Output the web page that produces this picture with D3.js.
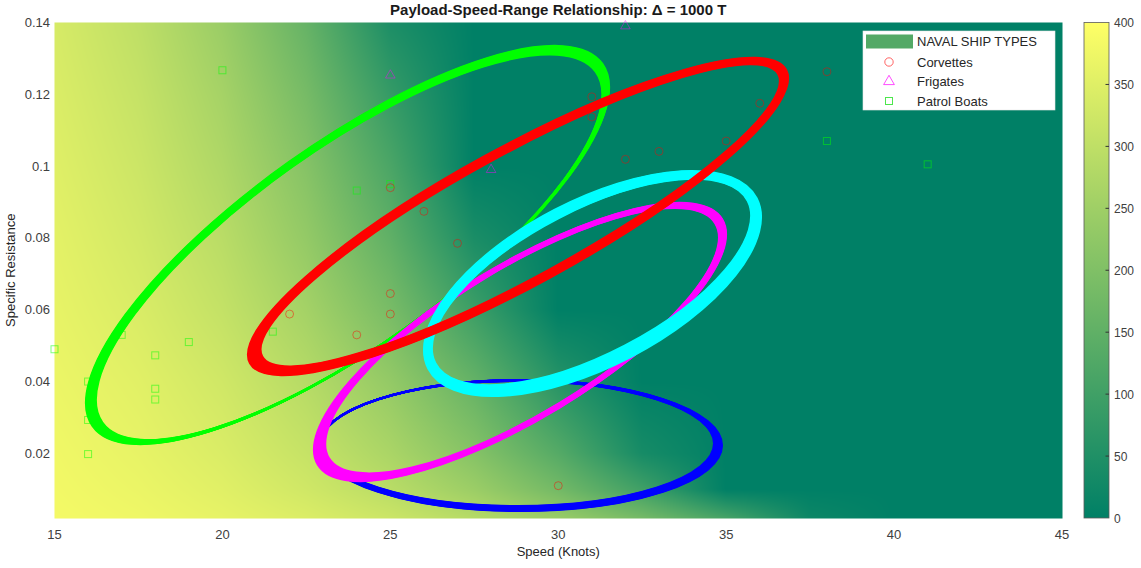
<!DOCTYPE html>
<html>
<head>
<meta charset="utf-8">
<script src="https://cdn.jsdelivr.net/npm/d3@7"></script>
<style>
  body { margin: 0; background: #ffffff; }
  svg { display: block; font-family: "Liberation Sans", Arial, sans-serif; }
</style>
</head>
<body>
<svg id="chart" width="1141" height="568"></svg>
<script>
// ---- Payload surface: estimated payload (T) over speed / specific resistance ----
const speedGrid = [15, 17.5, 20, 22.5, 25, 27.5, 30, 32.5, 35, 37.5, 40, 42.5, 45];
const resistanceGrid = [0.002, 0.01, 0.02, 0.04, 0.06, 0.08, 0.10, 0.12, 0.14];
const payloadGrid = [
  [383, 375, 362, 344, 319, 285, 240, 183, 110, 20, 0, 0, 0],
  [380, 369, 352, 326, 291, 244, 181, 101, 0, 0, 0, 0, 0],
  [377, 363, 342, 311, 268, 210, 134, 36, 0, 0, 0, 0, 0],
  [370, 353, 326, 286, 232, 158, 61, 0, 0, 0, 0, 0, 0],
  [363, 341, 307, 258, 189, 95, 0, 0, 0, 0, 0, 0, 0],
  [357, 330, 291, 232, 151, 42, 0, 0, 0, 0, 0, 0, 0],
  [350, 320, 275, 210, 118, 0, 0, 0, 0, 0, 0, 0, 0],
  [343, 310, 260, 186, 84, 0, 0, 0, 0, 0, 0, 0, 0],
  [336, 299, 242, 160, 45, 0, 0, 0, 0, 0, 0, 0, 0]
];

// ---- Ship samples (speed in knots, specific resistance) ----
const corvetteSpeed = [22, 24, 25, 25, 25, 26, 27, 30, 31, 31, 32, 33, 35, 36, 38];
const corvetteResistance = [0.0588, 0.053, 0.0645, 0.0588, 0.094, 0.0874, 0.0785, 0.011, 0.1137, 0.1193, 0.1019, 0.1041, 0.107, 0.1175, 0.1263];
const frigateSpeed = [25, 28, 32];
const frigateResistance = [0.1253, 0.099, 0.139];
const patrolSpeed = [15, 16, 16, 16, 17, 18, 18, 18, 19, 20, 21.5, 24, 25, 38, 41];
const patrolResistance = [0.049, 0.040, 0.0293, 0.0198, 0.053, 0.0473, 0.038, 0.035, 0.051, 0.1267, 0.0539, 0.0932, 0.095, 0.107, 0.1005];

// ---- Spread ellipses (outer boundary): centre, half-spread and correlation ----
const ellipseColours = ["#00ff00", "#0000ff", "#ff00ff", "#00ffff", "#ff0000"];
const centreSpeed = [23.725, 28.876, 28.861, 31.020, 28.802];
const centreRes = [0.07803, 0.02219, 0.05102, 0.06731, 0.08597];
const spreadSpeed = [7.817, 6.030, 6.164, 5.047, 8.070];
const spreadRes = [0.0557, 0.01852, 0.03899, 0.03161, 0.04442];
const correlation = [0.79, 0.0, 0.771, 0.586, 0.868];

// ---- Axes ----
const xTicks = [15, 20, 25, 30, 35, 40, 45];
const yTicks = [0.02, 0.04, 0.06, 0.08, 0.1, 0.12, 0.14];
const colourTicks = [0, 50, 100, 150, 200, 250, 300, 350, 400];

// Band look (pixels): depth of the band at the ends / along the sides, and drift of the inner ring
const bandStyle = [
  { end: 10,   side: 3.25, dx: 1.6,  dy: 2.25 },
  { end: 5,    side: 3,    dx: -3,   dy: -2 },
  { end: 10.5, side: 4,    dx: 2.1,  dy: -1.3 },
  { end: 9,    side: 11,   dx: -1,   dy: -1.5 },
  { end: 11.5, side: 7.5,  dx: 2.2,  dy: -1.2 }
];

const svg = d3.select("#chart");
const x = d3.scaleLinear().domain([15, 45]).range([54.5, 1062]);
const y = d3.scaleLinear().domain([0.002, 0.14]).range([518, 22.5]);
const summer = d3.scaleLinear().domain([0, 400]).range(["#008066", "#ffff66"]).clamp(true);

// Surface, shaded with bilinear interpolation between grid nodes
function payloadAt(s, r) {
  let i = d3.bisectRight(speedGrid, s) - 1;
  i = Math.max(0, Math.min(speedGrid.length - 2, i));
  let j = d3.bisectRight(resistanceGrid, r) - 1;
  j = Math.max(0, Math.min(resistanceGrid.length - 2, j));
  const u = Math.max(0, Math.min(1, (s - speedGrid[i]) / (speedGrid[i + 1] - speedGrid[i])));
  const v = Math.max(0, Math.min(1, (r - resistanceGrid[j]) / (resistanceGrid[j + 1] - resistanceGrid[j])));
  const p = payloadGrid;
  return (1 - u) * (1 - v) * p[j][i] + u * (1 - v) * p[j][i + 1] +
         (1 - u) * v * p[j + 1][i] + u * v * p[j + 1][i + 1];
}

const x0 = x.range()[0], y0 = y.range()[1];
const plotW = Math.round(x.range()[1] - x0), plotH = Math.round(y.range()[0] - y0);
const canvas = document.createElement("canvas");
canvas.width = plotW; canvas.height = plotH;
const ctx = canvas.getContext("2d");
const img = ctx.createImageData(plotW, plotH);
for (let py = 0; py < plotH; py++) {
  const r = y.invert(y0 + py + 0.5);
  for (let px = 0; px < plotW; px++) {
    const s = x.invert(x0 + px + 0.5);
    const c = d3.rgb(summer(payloadAt(s, r)));
    const k = (py * plotW + px) * 4;
    img.data[k] = c.r; img.data[k + 1] = c.g; img.data[k + 2] = c.b; img.data[k + 3] = 255;
  }
}
ctx.putImageData(img, 0, 0);

const defs = svg.append("defs");
defs.append("clipPath").attr("id", "plot-clip")
  .append("rect").attr("x", x0).attr("y", y0).attr("width", plotW).attr("height", plotH);

svg.append("image")
  .attr("x", x0).attr("y", y0)
  .attr("width", plotW).attr("height", plotH)
  .attr("preserveAspectRatio", "none")
  .attr("href", canvas.toDataURL());

// Ship markers
const markers = svg.append("g");
markers.selectAll("rect.patrol").data(d3.range(patrolSpeed.length)).join("rect")
  .attr("class", "patrol")
  .attr("x", i => x(patrolSpeed[i]) - 3.5).attr("y", i => y(patrolResistance[i]) - 3.5)
  .attr("width", 7).attr("height", 7)
  .attr("fill", "none").attr("stroke", "#00ff00").attr("stroke-opacity", 0.5).attr("stroke-width", 1);
markers.selectAll("circle.corvette").data(d3.range(corvetteSpeed.length)).join("circle")
  .attr("class", "corvette")
  .attr("cx", i => x(corvetteSpeed[i])).attr("cy", i => y(corvetteResistance[i])).attr("r", 4)
  .attr("fill", "none").attr("stroke", "#ff0000").attr("stroke-opacity", 0.45).attr("stroke-width", 1);
const tri = d3.symbol().type(d3.symbolTriangle).size(40);
markers.selectAll("path.frigate").data(d3.range(frigateSpeed.length)).join("path")
  .attr("class", "frigate")
  .attr("transform", i => `translate(${x(frigateSpeed[i])},${y(frigateResistance[i])})`)
  .attr("d", tri())
  .attr("fill", "none").attr("stroke", "#ff00ff").attr("stroke-opacity", 0.45).attr("stroke-width", 1);

// Ellipse bands: nested rings from the outer boundary inwards
const bands = svg.append("g").attr("clip-path", "url(#plot-clip)");
const kx = x(1) - x(0), ky = y(0) - y(1);
const rings = 14, ringWidth = 2;
ellipseColours.forEach((colour, e) => {
  const sxp = spreadSpeed[e] * kx, syp = spreadRes[e] * ky;
  const sxx = sxp * sxp, syy = syp * syp, sxy = -correlation[e] * sxp * syp; // screen y points down
  const half = (sxx + syy) / 2, disc = Math.sqrt(((sxx - syy) / 2) ** 2 + sxy * sxy);
  const a = Math.sqrt(half + disc), b = Math.sqrt(half - disc);
  const phi = 0.5 * Math.atan2(2 * sxy, sxx - syy) * 180 / Math.PI;
  const st = bandStyle[e];
  const cx = x(centreSpeed[e]), cy = y(centreRes[e]);
  bands.append("g").selectAll("ellipse").data(d3.range(rings + 1)).join("ellipse")
    .attr("transform", k => `translate(${cx + st.dx * k / rings},${cy + st.dy * k / rings}) rotate(${phi})`)
    .attr("rx", k => a - ringWidth / 2 - st.end * k / rings)
    .attr("ry", k => b - ringWidth / 2 - st.side * k / rings)
    .attr("fill", "none").attr("stroke", colour).attr("stroke-width", ringWidth);
});

// Axis labels
const tickColour = "#404040";
svg.append("g").selectAll("text").data(xTicks).join("text")
  .attr("x", d => x(d)).attr("y", 538.5)
  .attr("text-anchor", "middle").attr("font-size", 13).attr("fill", tickColour)
  .text(d => d);
svg.append("g").selectAll("text").data(yTicks).join("text")
  .attr("x", 50).attr("y", d => y(d) + 4.5)
  .attr("text-anchor", "end").attr("font-size", 13).attr("fill", tickColour)
  .text(d => String(d));

svg.append("text").attr("x", (x.range()[0] + x.range()[1]) / 2).attr("y", 556)
  .attr("text-anchor", "middle").attr("font-size", 13).attr("fill", "#262626")
  .text("Speed (Knots)");
svg.append("text").attr("transform", `translate(14.5,${(y.range()[0] + y.range()[1]) / 2}) rotate(-90)`)
  .attr("text-anchor", "middle").attr("font-size", 13).attr("fill", "#262626")
  .text("Specific Resistance");
svg.append("text").attr("x", (x.range()[0] + x.range()[1]) / 2).attr("y", 14.5)
  .attr("text-anchor", "middle").attr("font-size", 15).attr("font-weight", "bold").attr("fill", "#1a1a1a")
  .text("Payload-Speed-Range Relationship: \u0394 = 1000 T");

// Colour bar
const cb = d3.scaleLinear().domain([0, 400]).range([518, 22.5]);
const grad = defs.append("linearGradient").attr("id", "summer-grad")
  .attr("x1", 0).attr("y1", 1).attr("x2", 0).attr("y2", 0);
grad.selectAll("stop").data(colourTicks).join("stop")
  .attr("offset", d => d / 400).attr("stop-color", d => summer(d));
svg.append("rect").attr("x", 1084).attr("y", cb(400)).attr("width", 25).attr("height", cb(0) - cb(400))
  .attr("fill", "url(#summer-grad)").attr("stroke", "#5a5a5a").attr("stroke-width", 0.8);
svg.append("g").selectAll("line").data(colourTicks.slice(1, -1)).join("line")
  .attr("x1", 1105.5).attr("x2", 1109).attr("y1", d => cb(d)).attr("y2", d => cb(d))
  .attr("stroke", "#333").attr("stroke-width", 1);
svg.append("g").selectAll("text").data(colourTicks).join("text")
  .attr("x", 1114).attr("y", d => cb(d) + 4.5)
  .attr("font-size", 12).attr("fill", tickColour)
  .text(d => d);

// Legend
const lg = svg.append("g");
lg.append("rect").attr("x", 863).attr("y", 31).attr("width", 192).attr("height", 79)
  .attr("fill", "#ffffff").attr("stroke", "#e6e6e6").attr("stroke-width", 0.6);
lg.append("rect").attr("x", 866).attr("y", 34.5).attr("width", 47).attr("height", 14)
  .attr("fill", summer(130));
const legendRows = [41.5, 62, 81, 101];
const legendText = ["NAVAL SHIP TYPES", "Corvettes", "Frigates", "Patrol Boats"];
lg.selectAll("text").data(legendText).join("text")
  .attr("x", 917).attr("y", (d, i) => legendRows[i] + 4.5)
  .attr("font-size", 13).attr("fill", "#262626").text(d => d);
lg.append("circle").attr("cx", 889).attr("cy", legendRows[1]).attr("r", 4.2)
  .attr("fill", "none").attr("stroke", "#ff0000").attr("stroke-opacity", 0.6);
lg.append("path").attr("transform", `translate(889,${legendRows[2] + 0.5})`)
  .attr("d", d3.symbol().type(d3.symbolTriangle).size(50)())
  .attr("fill", "none").attr("stroke", "#ff00ff").attr("stroke-opacity", 0.7);
lg.append("rect").attr("x", 885.5).attr("y", legendRows[3] - 3.5).attr("width", 7).attr("height", 7)
  .attr("fill", "none").attr("stroke", "#00dd00").attr("stroke-opacity", 0.7);
</script>
</body>
</html>
